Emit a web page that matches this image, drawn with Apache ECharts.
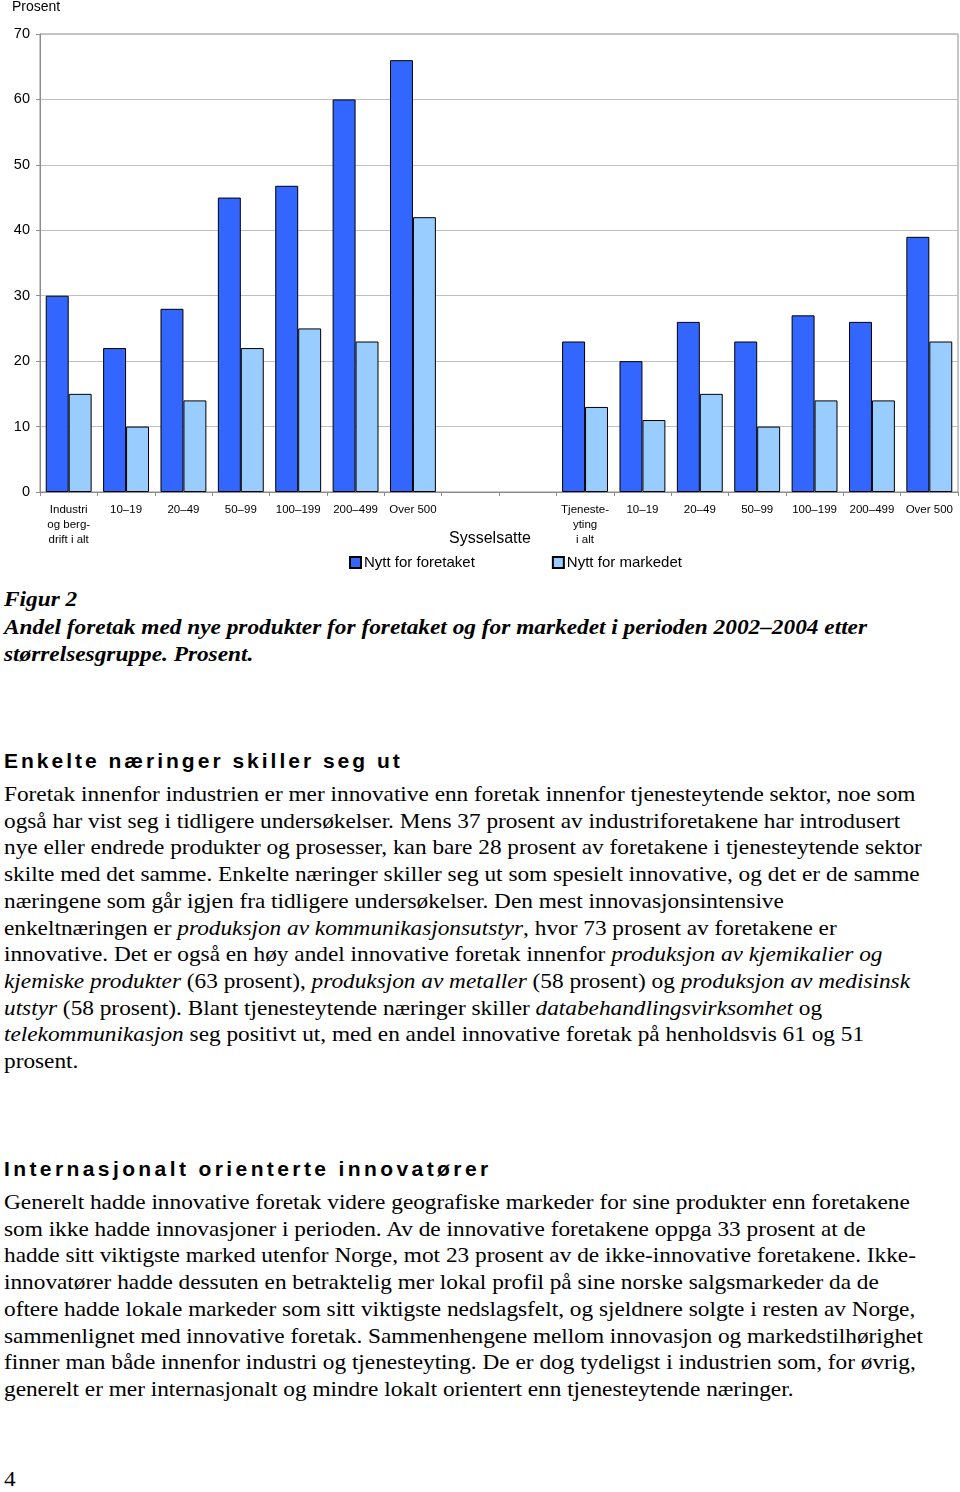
<!DOCTYPE html>
<html><head><meta charset="utf-8">
<script src="https://cdn.jsdelivr.net/npm/echarts@6/dist/echarts.min.js"></script>
<style>
html,body{margin:0;padding:0;background:#fff;width:960px;height:1492px;overflow:hidden;}
#chart{position:absolute;left:0;top:0;width:960px;height:580px;}
.p{position:absolute;left:4px;font-family:"Liberation Serif","Times New Roman",serif;font-size:21.5px;line-height:26.7px;color:#000;white-space:nowrap;transform:scaleX(1.083);transform-origin:0 0;}
.h{position:absolute;left:4px;font-family:"Liberation Sans",Arial,sans-serif;font-weight:bold;font-size:21px;letter-spacing:3.2px;color:#000;white-space:nowrap;}
.cap{position:absolute;left:4px;font-family:"Liberation Serif","Times New Roman",serif;font-weight:bold;font-style:italic;font-size:21px;line-height:27.5px;color:#000;white-space:nowrap;transform:scaleX(1.11);transform-origin:0 0;}
</style></head>
<body>
<div id="chart"></div>
<div class="cap" style="top:586px;">Figur 2<br>Andel foretak med nye produkter for foretaket og for markedet i perioden 2002–2004 etter<br>størrelsesgruppe. Prosent.</div>
<div class="h" style="top:749px;letter-spacing:3.0px;">Enkelte næringer skiller seg ut</div>
<div class="p" style="top:781px;">Foretak innenfor industrien er mer innovative enn foretak innenfor tjenesteytende sektor, noe som<br>også har vist seg i tidligere undersøkelser. Mens 37 prosent av industriforetakene har introdusert<br>nye eller endrede produkter og prosesser, kan bare 28 prosent av foretakene i tjenesteytende sektor<br>skilte med det samme. Enkelte næringer skiller seg ut som spesielt innovative, og det er de samme<br>næringene som går igjen fra tidligere undersøkelser. Den mest innovasjonsintensive<br>enkeltnæringen er <i>produksjon av kommunikasjonsutstyr</i>, hvor 73 prosent av foretakene er<br>innovative. Det er også en høy andel innovative foretak innenfor <i>produksjon av kjemikalier og</i><br><i>kjemiske produkter</i> (63 prosent), <i>produksjon av metaller</i> (58 prosent) og <i>produksjon av medisinsk</i><br><i>utstyr</i> (58 prosent). Blant tjenesteytende næringer skiller <i>databehandlingsvirksomhet</i> og<br><i>telekommunikasjon</i> seg positivt ut, med en andel innovative foretak på henholdsvis 61 og 51<br>prosent.</div>
<div class="h" style="top:1157px;letter-spacing:3.4px;">Internasjonalt orienterte innovatører</div>
<div class="p" style="top:1189px;">Generelt hadde innovative foretak videre geografiske markeder for sine produkter enn foretakene<br>som ikke hadde innovasjoner i perioden. Av de innovative foretakene oppga 33 prosent at de<br>hadde sitt viktigste marked utenfor Norge, mot 23 prosent av de ikke-innovative foretakene. Ikke-<br>innovatører hadde dessuten en betraktelig mer lokal profil på sine norske salgsmarkeder da de<br>oftere hadde lokale markeder som sitt viktigste nedslagsfelt, og sjeldnere solgte i resten av Norge,<br>sammenlignet med innovative foretak. Sammenhengene mellom innovasjon og markedstilhørighet<br>finner man både innenfor industri og tjenesteyting. De er dog tydeligst i industrien som, for øvrig,<br>generelt er mer internasjonalt og mindre lokalt orientert enn tjenesteytende næringer.</div>
<div class="p" style="top:1466px;left:4px;">4</div>
<script>
var categories = ['Industri\nog berg-\ndrift i alt','10–19','20–49','50–99','100–199','200–499','Over 500','','',
  'Tjeneste-\nyting\ni alt','10–19','20–49','50–99','100–199','200–499','Over 500'];
var seriesNames = ['Nytt for foretaket','Nytt for markedet'];
var nyttForetaket = [30,22,28,45,46.8,60,66,null,null,23,20,26,23,27,26,39];
var nyttMarkedet  = [15,10,14,22,25,23,42,null,null,13,11,15,10,14,14,23];
var yTicks = {min:0,max:70,interval:10};
var axisName = 'Sysselsatte';

var chart = echarts.init(document.getElementById('chart'));
chart.setOption({
  animation:false,
  textStyle:{fontFamily:'"Liberation Sans", Arial, sans-serif'},
  grid:{left:40,right:2,top:33,bottom:88,show:true,borderColor:'#8c8c8c',borderWidth:1},
  xAxis:{type:'category',data:categories,
    axisLine:{lineStyle:{color:'#8c8c8c'}},
    axisTick:{show:true,length:4,lineStyle:{color:'#8c8c8c'}},
    axisLabel:{interval:0,color:'#000',fontSize:11.5,lineHeight:15,margin:10}},
  yAxis:{type:'value',min:yTicks.min,max:yTicks.max,interval:yTicks.interval,
    name:'Prosent',nameLocation:'end',nameGap:0,
    nameTextStyle:{color:'#000',fontSize:14,align:'left',padding:[0,0,20,-28]},
    axisLine:{show:true,lineStyle:{color:'#8c8c8c'}},
    axisTick:{show:true,length:4,lineStyle:{color:'#8c8c8c'}},
    axisLabel:{color:'#000',fontSize:14.5,margin:10},
    splitLine:{lineStyle:{color:'#c0c0c0'}}},
  legend:{left:344,top:550,itemWidth:11,itemHeight:11,itemGap:77,icon:'rect',
    textStyle:{fontSize:15,color:'#000',padding:[0,0,0,-2]},
    data:seriesNames},
  graphic:[{type:'text',left:449,top:531,style:{text:axisName,fontSize:16,fill:'#000',fontFamily:'"Liberation Sans", Arial, sans-serif'}}],
  series:[
    {name:seriesNames[0],type:'bar',data:nyttForetaket,barGap:'0%',barCategoryGap:'20%',
     itemStyle:{color:'#3366FF',borderColor:'#000',borderWidth:1}},
    {name:seriesNames[1],type:'bar',data:nyttMarkedet,
     itemStyle:{color:'#99CCFF',borderColor:'#000',borderWidth:1}}
  ]
});
</script>
</body></html>
